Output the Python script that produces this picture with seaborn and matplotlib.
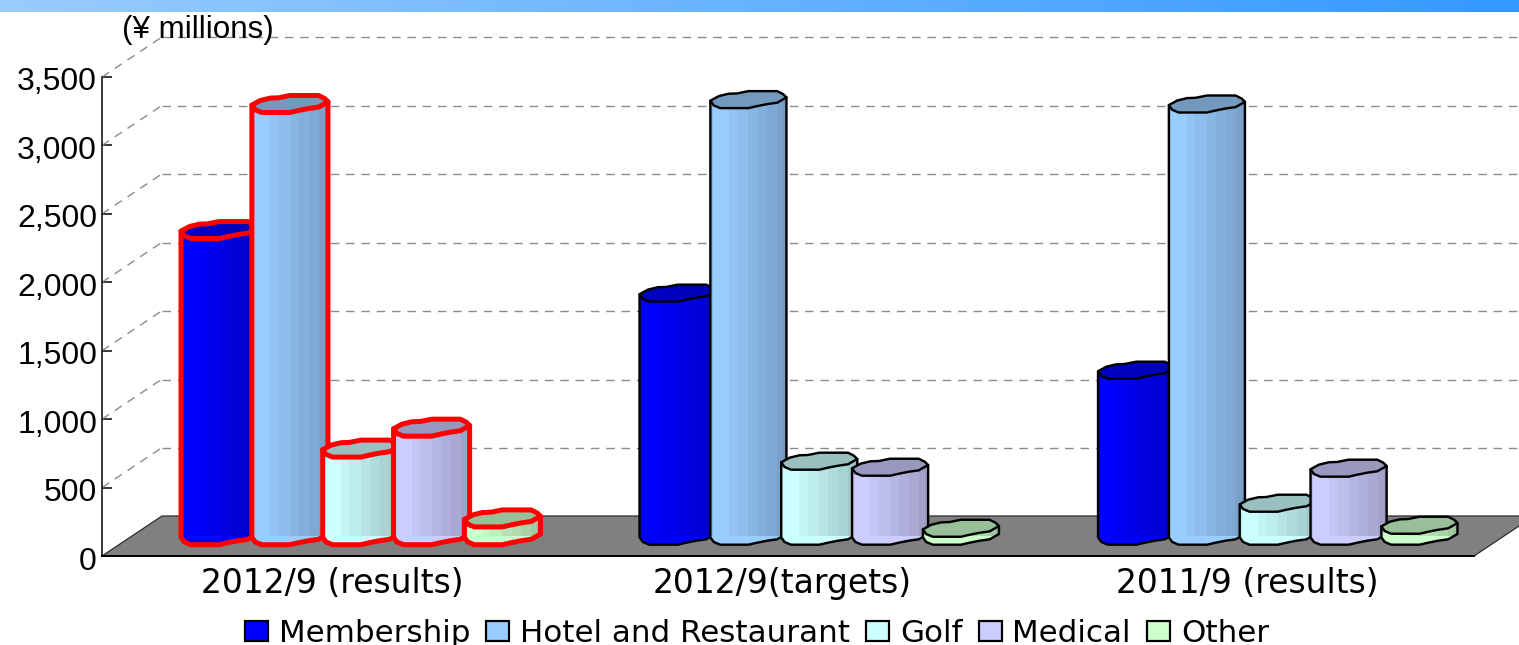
import numpy as np
import pandas as pd
import seaborn as sns
import matplotlib
matplotlib.use("Agg")
import matplotlib.pyplot as plt
from matplotlib.patches import Polygon, Rectangle
from matplotlib.lines import Line2D
from matplotlib.colors import LinearSegmentedColormap, to_rgb
from matplotlib.transforms import IdentityTransform, ScaledTranslation

# ---------- data ----------
categories = ["2012/9 (results)", "2012/9(targets)", "2011/9 (results)"]
membership = [2237, 1776, 1213]
hotel_restaurant = [3158, 3190, 3158]
golf = [640, 548, 241]
medical = [793, 504, 497]
other = [130, 58, 80]
series_names = ["Membership", "Hotel and Restaurant", "Golf", "Medical", "Other"]
series_colors = ["#0000FF", "#99CCFF", "#CCFFFF", "#CCCCFF", "#CCFFCC"]
y_ticks = [0, 500, 1000, 1500, 2000, 2500, 3000, 3500]
y_tick_labels = ["0", "500", "1,000", "1,500", "2,000", "2,500", "3,000", "3,500"]
unit_label = "(¥ millions)"

df = pd.DataFrame({
    "category": categories * 5,
    "series": np.repeat(series_names, 3),
    "value": membership + hotel_restaurant + golf + medical + other,
})

# ---------- layout (pixels) ----------
W, H = 1519, 645
sns.set_theme(style="white")
px = 72 / 100  # points per pixel
fig = plt.figure(figsize=(W / 100, H / 100), dpi=100, facecolor="white")


def add_axes(left, right, top, bottom, z):
    a = fig.add_axes([left / W, 1 - bottom / H, (right - left) / W, (bottom - top) / H])
    a.set_zorder(z)
    a.patch.set_alpha(0)
    a.set_ylim(0, 3500)
    a.set_xlim(-0.5, 2.5)
    return a


DEPTH_X, DEPTH_Y = 60, 40
FX0, FX1, FY_TOP, FY_BOT = 102, 1474, 77, 556
back = add_axes(FX0 + DEPTH_X, FX1 + DEPTH_X, FY_TOP - DEPTH_Y, FY_BOT - DEPTH_Y + 1, 0)
front = add_axes(FX0, FX1, FY_TOP, FY_BOT, 1)
bars = add_axes(FX0 + DEPTH_X / 2 - 0.5, FX1 + DEPTH_X / 2 + 3, FY_TOP - DEPTH_Y / 2, FY_BOT - DEPTH_Y / 2, 2)

ID = IdentityTransform()
GRID = "#8c8c8c"
DASH = (0, (8.5 / 1.4, 6.8 / 1.4))

# back wall gridlines
back.set_yticks(y_ticks)
back.set_xticks([])
back.tick_params(left=False, labelleft=False)
back.grid(axis="y", color=GRID, lw=1.4 * px, linestyle=DASH)
for gl in back.get_ygridlines():
    gl.set_clip_on(False)
sns.despine(ax=back, left=True, bottom=True)

# front axis
front.set_yticks(y_ticks)
front.set_yticklabels(y_tick_labels, family="Liberation Sans", fontsize=32 * px, color="black")
front.tick_params(axis="y", direction="in", length=10 * px, width=1.5 * px, color="black", pad=5 * px, left=True)
for lab in front.get_yticklabels():
    lab.set_transform(lab.get_transform() + ScaledTranslation(0, -2 / 100, fig.dpi_scale_trans))
front.set_xticks([0.5, 1.5, 2.5])
front.set_xticklabels([])
front.tick_params(axis="x", which="major", direction="in", length=8 * px, width=1.2 * px, color="black", bottom=True)
front.set_xticks([0, 1, 2], minor=True)
front.set_xticklabels(categories, minor=True, fontsize=33 * px, family="DejaVu Sans", color="black")
front.tick_params(axis="x", which="minor", length=0, pad=11 * px)
for lab, dx in zip(front.get_xticklabels(minor=True), (1.5, -6, 2)):
    lab.set_transform(lab.get_transform() + ScaledTranslation(dx / 100, 0, fig.dpi_scale_trans))
front.grid(False)
sns.despine(ax=front)
for s in ("left", "bottom"):
    front.spines[s].set_color("black")
front.spines["left"].set_linewidth(1.5 * px)
front.spines["bottom"].set_linewidth(2 * px)

# floor and side-wall diagonals
fl, fr = FX0, FX1
yb = H - FY_BOT
floor = Polygon(
    [(fl, yb), (fl + DEPTH_X, yb + DEPTH_Y), (fr + DEPTH_X, yb + DEPTH_Y), (fr, yb)],
    closed=True, facecolor="#808080", edgecolor="#303030", lw=1.3 * px, transform=ID, zorder=1,
)
front.add_patch(floor)
floor.set_clip_on(False)
for t in y_ticks[1:]:
    _, y0 = front.transData.transform((0, t))
    front.add_line(Line2D([fl, fl + DEPTH_X], [y0, y0 + DEPTH_Y], transform=ID, color=GRID,
                          lw=1.4 * px, linestyle=DASH, clip_on=False, zorder=1))

front.text(122 / W, 1 - 30 / H, unit_label, transform=fig.transFigure, family="Liberation Sans",
           fontsize=31.4 * px, color="black", va="center", ha="left", zorder=5)

# bars through seaborn
sns.barplot(data=df, x="category", y="value", hue="series", order=categories, hue_order=series_names,
            palette=dict(zip(series_names, series_colors)), saturation=1, width=0.7725, gap=0,
            errorbar=None, ax=bars, legend=True)
bars.set_xlim(-0.5, 2.5)
bars.set_ylim(0, 3500)
bars.axis("off")

# silhouette styling of each bar (u across the bar, v in pixels around the centre of the cap)
CAP = [(0, -1.3), (.11, 3.3), (.24, 5.7), (.35, 6), (.5, 8.3), (.877, 8.3), (.956, 5.3), (1, 2),
       (.877, -3.3), (.746, -4.7), (.614, -6.7), (.5, -8.7), (.13, -8.7), (.044, -6)]
BAND_EDGES = [0, .03, .24, .35, .50, .62, .75, .88, .96, 1]
BAND_SHADE = [.92, 1, .96, .93, .89, .86, .83, .79, .75]
EXTRA = 5.25

z = 3
for container, base in zip(bars.containers, series_colors):
    rgb = np.array(to_rgb(base))
    for i, rect in enumerate(container):
        edge = "#FF0000" if i == 0 else "black"
        lw = (5 if i == 0 else 2.4) * px
        x0 = rect.get_x()
        (xl, y_base) = bars.transData.transform((x0, 0))
        (xr, y_top) = bars.transData.transform((x0 + rect.get_width(), rect.get_height()))
        xl -= EXTRA / 2
        xr += EXTRA / 2
        width = xr - xl
        cap = [(xl + u * width, y_top + v) for u, v in CAP]
        lower = [(xl + u * width, y_base + v) for u, v in CAP[8:]]
        body_pts = [cap[0], cap[7], (xr, y_base + CAP[7][1])] + lower + [(xl, y_base + CAP[0][1])]
        body = Polygon(body_pts, closed=True, transform=ID, facecolor=rgb, edgecolor="none",
                       zorder=z, clip_on=False)
        bars.add_patch(body)
        for a, b, s in zip(BAND_EDGES[:-1], BAND_EDGES[1:], BAND_SHADE):
            band = Rectangle((xl + a * width, y_base - 30), (b - a) * width + 0.5, y_top - y_base + 60,
                             transform=ID, facecolor=rgb * s, edgecolor="none", zorder=z + .1)
            bars.add_patch(band)
            band.set_clip_path(body)
        bars.add_patch(Polygon(body_pts, closed=True, transform=ID, facecolor="none", edgecolor=edge, lw=lw,
                               joinstyle="round", zorder=z + .2, clip_on=False))
        bars.add_patch(Polygon(cap, closed=True, transform=ID, facecolor=rgb * .75, edgecolor=edge, lw=lw,
                               joinstyle="round", zorder=z + .3, clip_on=False))
        z += 1

# legend
sns.move_legend(bars, "center", bbox_to_anchor=(757 / W, 1 - 633 / H), bbox_transform=fig.transFigure,
                ncol=5, frameon=False, title=None, fontsize=31 * px,
                handlelength=.74, handleheight=.61, handletextpad=.35, columnspacing=.52,
                borderpad=0, borderaxespad=0)
leg = bars.get_legend()
leg.set_zorder(100)
for h in leg.legend_handles:
    h.set_edgecolor("black")
    h.set_linewidth(2.2 * px)
for t in leg.get_texts():
    t.set_color("black")
    t.set_family("DejaVu Sans")

# top band
strip = fig.add_axes([0, 1 - 12 / H, 1, 12 / H])
strip.imshow(np.linspace(0, 1, 256)[None, :], aspect="auto",
             cmap=LinearSegmentedColormap.from_list("band", ["#99CCFF", "#3399FF"]))
strip.axis("off")

fig.savefig("out.png", dpi=100)
